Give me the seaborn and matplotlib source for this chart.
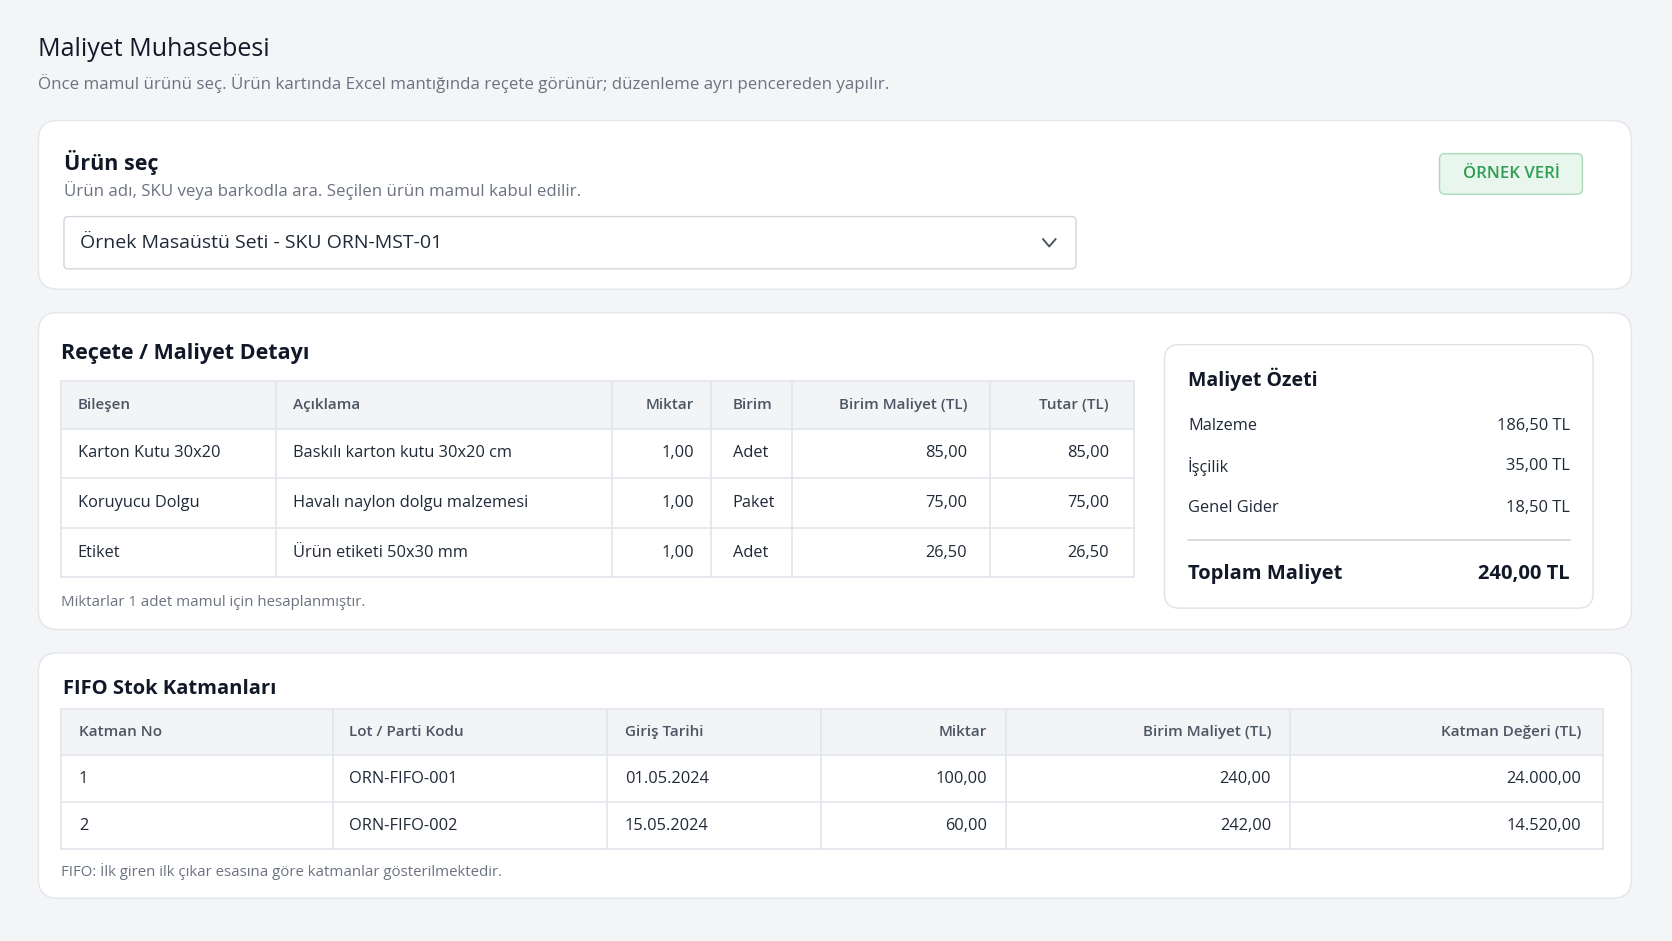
import matplotlib
matplotlib.use("Agg")
import matplotlib.pyplot as plt
import seaborn as sns
from matplotlib.patches import FancyBboxPatch, Rectangle

sns.set_theme(style="white")
plt.rcParams['font.family'] = ['Open Sans', 'Noto Sans', 'DejaVu Sans']

# --- data ---
bom_headers = ["Bileşen", "Açıklama", "Miktar", "Birim", "Birim Maliyet (TL)", "Tutar (TL)"]
bom_component = ["Karton Kutu 30x20", "Koruyucu Dolgu", "Etiket"]
bom_desc = ["Baskılı karton kutu 30x20 cm", "Havalı naylon dolgu malzemesi", "Ürün etiketi 50x30 mm"]
bom_qty = ["1,00", "1,00", "1,00"]
bom_unit = ["Adet", "Paket", "Adet"]
bom_unit_cost = ["85,00", "75,00", "26,50"]
bom_total = ["85,00", "75,00", "26,50"]

summary_labels = ["Malzeme", "İşçilik", "Genel Gider"]
summary_values = ["186,50 TL", "35,00 TL", "18,50 TL"]
summary_total = "240,00 TL"

fifo_headers = ["Katman No", "Lot / Parti Kodu", "Giriş Tarihi", "Miktar", "Birim Maliyet (TL)", "Katman Değeri (TL)"]
fifo_no = ["1", "2"]
fifo_lot = ["ORN-FIFO-001", "ORN-FIFO-002"]
fifo_date = ["01.05.2024", "15.05.2024"]
fifo_qty = ["100,00", "60,00"]
fifo_unit_cost = ["240,00", "242,00"]
fifo_value = ["24.000,00", "14.520,00"]

DARK = "#111827"
TXT = "#1f2937"
GRAY = "#6b7280"
BORDER = "#e2e5ea"

fig = plt.figure(figsize=(16.72, 9.41), dpi=100)
fig.patch.set_facecolor("#f4f5f7")
ax = fig.add_axes([0, 0, 1, 1])
ax.set_xlim(0, 1568)
ax.set_ylim(882, 0)
ax.axis("off")


def card(x0, y0, x1, y1, fc="white", ec=BORDER, r=18, lw=1.0):
    ax.add_patch(FancyBboxPatch((x0, y0), x1 - x0, y1 - y0,
                                boxstyle=f"round,pad=0,rounding_size={r}",
                                fc=fc, ec=ec, lw=lw))


def table(x_edges, y_edges, headers, cols, aligns, pads, fs=11.8):
    x0, x1 = x_edges[0], x_edges[-1]
    ax.add_patch(Rectangle((x0, y_edges[0]), x1 - x0, y_edges[1] - y_edges[0],
                           fc="#f3f4f6", ec="none"))
    ax.add_patch(Rectangle((x0, y_edges[0]), x1 - x0, y_edges[-1] - y_edges[0],
                           fc="none", ec=BORDER, lw=1.2))
    for y in y_edges[1:-1]:
        ax.plot([x0, x1], [y, y], color=BORDER, lw=1.2)
    for x in x_edges[1:-1]:
        ax.plot([x, x], [y_edges[0], y_edges[-1]], color=BORDER, lw=1.2)
    rows = [headers] + [list(r) for r in zip(*cols)]
    for i, row in enumerate(rows):
        yc = (y_edges[i] + y_edges[i + 1]) / 2
        for j, val in enumerate(row):
            if aligns[j] == "left":
                xt, ha = x_edges[j] + pads[j], "left"
            else:
                xt, ha = x_edges[j + 1] - pads[j], "right"
            if i == 0:
                ax.text(xt, yc, val, ha=ha, va="center", fontsize=fs - 0.8,
                        color="#4b5563", fontweight="semibold")
            else:
                ax.text(xt, yc, val, ha=ha, va="center", fontsize=fs, color=TXT)


# header
ax.text(36, 46, "Maliyet Muhasebesi", fontsize=18, color=DARK, va="center")
ax.text(36, 78, "Önce mamul ürünü seç. Ürün kartında Excel mantığında reçete görünür; düzenleme ayrı pencereden yapılır.",
        fontsize=12.2, color=GRAY, va="center")

# card 1
card(36, 113, 1530, 271)
ax.text(60, 152, "Ürün seç", fontsize=15.5, fontweight="bold", color=DARK, va="center")
ax.text(60, 179, "Ürün adı, SKU veya barkodla ara. Seçilen ürün mamul kabul edilir.",
        fontsize=12.2, color=GRAY, va="center")
card(60, 203, 1009, 252, r=4, ec="#d1d5db")
ax.text(75, 228, "Örnek Masaüstü Seti - SKU ORN-MST-01", fontsize=14, color=TXT, va="center")
ax.plot([978, 984, 990], [224, 231, 224], color="#4b5563", lw=1.4)
card(1350, 144, 1484, 182, fc="#e9f6ed", ec="#a9dbb8", r=5)
ax.text(1417, 163, "ÖRNEK VERİ", fontsize=12, fontweight="semibold", color="#2e9d52",
        ha="center", va="center")

# card 2
card(36, 293, 1530, 590)
ax.text(57, 331, "Reçete / Maliyet Detayı", fontsize=15.5, fontweight="bold", color=DARK, va="center")
table([57, 259, 574, 667, 743, 928, 1063], [357, 402, 448, 495, 541], bom_headers,
      [bom_component, bom_desc, bom_qty, bom_unit, bom_unit_cost, bom_total],
      ["left", "left", "right", "left", "right", "right"], [16, 16, 16, 20, 21, 23])
ax.text(57, 565, "Miktarlar 1 adet mamul için hesaplanmıştır.", fontsize=10.8, color=GRAY, va="center")

card(1092, 323, 1494, 570, ec="#dfe2e7", r=14)
ax.text(1114, 356, "Maliyet Özeti", fontsize=14, fontweight="bold", color=DARK, va="center")
for y, lab, val in zip([399, 437, 476], summary_labels, summary_values):
    ax.text(1114, y, lab, fontsize=11.8, color=TXT, va="center")
    ax.text(1472, y, val, fontsize=11.8, color=TXT, va="center", ha="right")
ax.plot([1114, 1472], [506, 506], color="#d1d5db", lw=1.2)
ax.text(1114, 538, "Toplam Maliyet", fontsize=14.5, fontweight="bold", color=DARK, va="center")
ax.text(1472, 538, summary_total, fontsize=14.5, fontweight="bold", color=DARK, va="center", ha="right")

# card 3
card(36, 612, 1530, 842)
ax.text(59, 646, "FIFO Stok Katmanları", fontsize=14.5, fontweight="bold", color=DARK, va="center")
table([57, 312, 569, 770, 943, 1210, 1503], [665, 708, 752, 796], fifo_headers,
      [fifo_no, fifo_lot, fifo_date, fifo_qty, fifo_unit_cost, fifo_value],
      ["left", "left", "left", "right", "right", "right"], [17, 15, 17, 17, 18, 20])
ax.text(57, 817, "FIFO: İlk giren ilk çıkar esasına göre katmanlar gösterilmektedir.",
        fontsize=10.8, color=GRAY, va="center")

fig.savefig("out.png", dpi=100, facecolor=fig.get_facecolor())
